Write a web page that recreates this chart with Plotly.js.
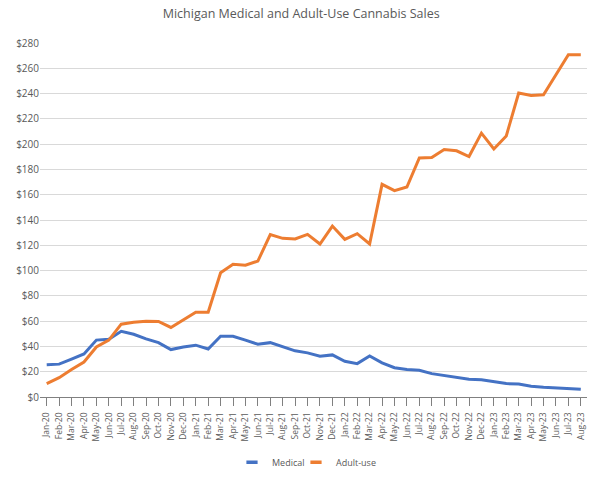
<!DOCTYPE html>
<html>
<head>
<meta charset="utf-8">
<script src="https://cdn.plot.ly/plotly-3.0.1.min.js"></script>
<style>html,body{margin:0;padding:0;background:#fff;}#chart{width:606px;height:485px;}</style>
</head>
<body>
<div id="chart"></div>
<script>
const months = ["Jan-20","Feb-20","Mar-20","Apr-20","May-20","Jun-20","Jul-20","Aug-20","Sep-20","Oct-20","Nov-20","Dec-20",
"Jan-21","Feb-21","Mar-21","Apr-21","May-21","Jun-21","Jul-21","Aug-21","Sep-21","Oct-21","Nov-21","Dec-21",
"Jan-22","Feb-22","Mar-22","Apr-22","May-22","Jun-22","Jul-22","Aug-22","Sep-22","Oct-22","Nov-22","Dec-22",
"Jan-23","Feb-23","Mar-23","Apr-23","May-23","Jun-23","Jul-23","Aug-23"];
const medical = [25.6,26,30,34,45,45.7,52,49.6,46,43,37.5,39.6,
41,38,48,48,45,41.7,43,40,36.5,34.9,32.2,33.3,
28.3,26.4,32.5,27,23.2,21.7,21.1,18.5,16.9,15.3,14,13.7,
11.9,10.6,10.3,8.5,7.7,7.1,6.6,6.1];
const adultUse = [10.6,15.3,21.7,27.7,39.6,45,57.6,59.2,60,59.7,55,61.3,
67,67,98.3,105,104.3,107.5,128.4,125.5,125,128.6,121,135.2,
124.7,129.2,121,168.2,163.2,166.1,189.1,189.4,195.7,194.7,190.2,208.7,
196.2,206.5,240.4,238.5,239,254.9,270.7,270.7];
const yTicks = [0,20,40,60,80,100,120,140,160,180,200,220,240,260,280];
const yTickText = yTicks.map(v => "$" + v);
const seriesNames = ["Medical", "Adult-use"];
const seriesColors = ["#4472C4", "#ED7D31"];
const legendIds = ["legend", "legend2"];

const font = "'Open Sans', 'Noto Sans', sans-serif";
const traces = [
  {x: months, y: medical, name: seriesNames[0], type: "scatter", mode: "lines", showlegend: false,
   line: {color: seriesColors[0], width: 3}},
  {x: months, y: adultUse, name: seriesNames[1], type: "scatter", mode: "lines", showlegend: false,
   line: {color: seriesColors[1], width: 3}}
];
seriesNames.forEach((n, i) => {
  traces.push({x: [months[0]], y: [null], name: n, type: "scatter", mode: "markers", showlegend: true,
    legend: legendIds[i],
    marker: {symbol: "line-ew-open", size: 8, line: {color: seriesColors[i], width: 3.5}, color: seriesColors[i]}});
});
const legendStyle = {orientation: "h", xanchor: "left", y: -0.184, yanchor: "middle",
  font: {size: 9, color: "#595959"}, itemwidth: 30, bgcolor: "rgba(0,0,0,0)"};
const layout = {
  width: 606, height: 485,
  margin: {l: 40, r: 19, t: 43, b: 88, autoexpand: false},
  paper_bgcolor: "#fff", plot_bgcolor: "#fff",
  font: {family: font, color: "#595959", size: 10},
  title: {text: "Michigan Medical and Adult-Use Cannabis Sales", x: 0.497, xanchor: "center", y: 0.972, yanchor: "middle",
          font: {family: font, size: 12.5, color: "#595959"}},
  xaxis: {type: "category", range: [-0.54, 43.5], tickangle: -90, tickfont: {size: 8.5, color: "#595959"},
          showgrid: false, showline: true, linecolor: "#808080", linewidth: 1, ticklabelstandoff: 3,
          ticks: "outside", ticklen: 8, tickcolor: "#808080", zeroline: false, fixedrange: true},
  yaxis: {range: [0, 280], tickvals: yTicks, ticktext: yTickText, showgrid: true, gridcolor: "#d9d9d9", gridwidth: 1,
          zeroline: false, showline: false, ticks: "", tickfont: {size: 10, color: "#595959"}, fixedrange: true},
  showlegend: true,
  legend: Object.assign({}, legendStyle, {x: 0.351}),
  legend2: Object.assign({}, legendStyle, {x: 0.468}),
};
Plotly.newPlot("chart", traces, layout, {displayModeBar: false, staticPlot: true});
</script>
</body>
</html>
